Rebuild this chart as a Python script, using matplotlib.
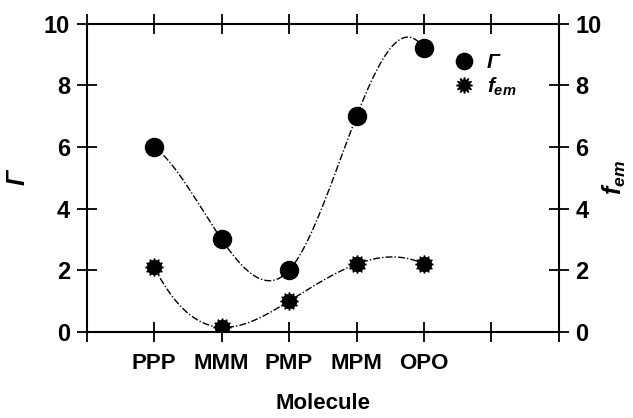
import numpy as np
import matplotlib
matplotlib.use("Agg")
import matplotlib.pyplot as plt

molecules = ["PPP", "MMM", "PMP", "MPM", "OPO"]
gamma = [6.0, 3.0, 2.0, 7.0, 9.2]
f_em = [2.1, 0.15, 1.0, 2.2, 2.2]
y_ticks = [0, 2, 4, 6, 8, 10]

fam = "Liberation Sans"
plt.rcParams["font.family"] = [fam, "DejaVu Sans"]
plt.rcParams["mathtext.fontset"] = "custom"
plt.rcParams["mathtext.it"] = fam + ":italic:bold"
plt.rcParams["mathtext.rm"] = fam + ":bold"
plt.rcParams["mathtext.bf"] = fam + ":bold"


def notaknot_spline(x, y, n=300):
    x = np.asarray(x, float); y = np.asarray(y, float)
    m = len(x) - 1
    N = 4 * m
    A = np.zeros((N, N)); b = np.zeros(N)
    r = 0
    for i in range(m):
        h = x[i + 1] - x[i]
        A[r, 4 * i] = 1; b[r] = y[i]; r += 1
        A[r, 4 * i:4 * i + 4] = [1, h, h ** 2, h ** 3]; b[r] = y[i + 1]; r += 1
    for i in range(m - 1):
        h = x[i + 1] - x[i]
        A[r, 4 * i:4 * i + 4] = [0, 1, 2 * h, 3 * h ** 2]; A[r, 4 * (i + 1) + 1] = -1; r += 1
        A[r, 4 * i:4 * i + 4] = [0, 0, 2, 6 * h]; A[r, 4 * (i + 1) + 2] = -2; r += 1
    A[r, 3] = 1; A[r, 7] = -1; r += 1
    A[r, 4 * (m - 2) + 3] = 1; A[r, 4 * (m - 1) + 3] = -1; r += 1
    coef = np.linalg.solve(A, b)
    xs = np.linspace(x[0], x[-1], n)
    ys = np.empty_like(xs)
    for j, xv in enumerate(xs):
        i = min(np.searchsorted(x, xv, side="right") - 1, m - 1)
        d = xv - x[i]
        a0, a1, a2, a3 = coef[4 * i:4 * i + 4]
        ys[j] = a0 + a1 * d + a2 * d ** 2 + a3 * d ** 3
    return xs, ys


fig = plt.figure(figsize=(6.33, 4.18), dpi=100)
ax = fig.add_axes([0.137, 0.206, 0.746, 0.737])
xpos = np.arange(1, len(molecules) + 1)

ls = (0, (5, 1.5, 1, 1.5))
xs, ys = notaknot_spline(xpos, gamma)
ax.plot(xs, ys, color="black", lw=1.0, ls=ls)
xs2, ys2 = notaknot_spline(xpos, f_em)
ax.plot(xs2, ys2, color="black", lw=1.0, ls=ls)

ax.plot(xpos, gamma, "o", color="black", ms=13, ls="none", label="Γ")
ax.plot(xpos, f_em, marker=(12, 1, 0), color="black", ms=13, ls="none",
        label=r"$f_{em}$")
ax.plot(xpos, f_em, "o", color="black", ms=10, ls="none")

ax.set_xlim(0, 7)
ax.set_ylim(0, 10)
ax.set_xticks(range(0, 8))
ax.set_xticklabels([""] + molecules + ["", ""])
ax.set_yticks(y_ticks)
ax.tick_params(direction="inout", length=14, width=1.3,
               top=True, right=True, labelright=True)
ax.tick_params(axis="y", labelsize=17, pad=5)
ax.tick_params(axis="x", labelsize=16, pad=8)
for lab in ax.get_xticklabels() + ax.get_yticklabels():
    lab.set_fontweight("bold")
for s in ax.spines.values():
    s.set_linewidth(1.5)
ax.set_xlabel("Molecule", fontsize=16, fontweight="bold", labelpad=14)
ax.set_ylabel("Γ", fontsize=18, fontstyle="italic", fontweight="bold", labelpad=10)
ax2 = ax.secondary_yaxis("right")
ax2.set_yticks([])
ax2.set_ylabel(r"$f_{em}$", fontsize=18, labelpad=30)
ax2.spines["right"].set_visible(False)

leg = ax.legend(loc="upper right", bbox_to_anchor=(0.95, 0.965), frameon=False,
                fontsize=15, handletextpad=0.1, labelspacing=0.15, markerscale=0.9)
texts = leg.get_texts()
for t in texts:
    t.set_fontweight("bold")
texts[0].set_fontstyle("italic")

fig.savefig("out.png", dpi=100)
